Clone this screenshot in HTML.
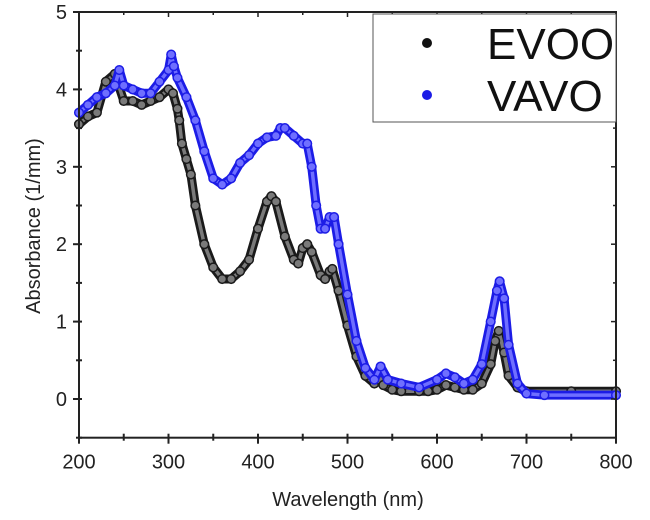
<!DOCTYPE html>
<html><head><meta charset="utf-8"><style>
html,body{margin:0;padding:0;background:#fff;}
svg{display:block;font-family:"Liberation Sans",Arial,sans-serif;}
</style></head><body>
<svg id="chart" width="650" height="520" viewBox="0 0 650 520">
<g id="series"></g>
<g id="axes"></g>
<g>
<rect x="373" y="14" width="243" height="108" fill="#fff" stroke="#555" stroke-width="1"/>
<circle cx="427" cy="43" r="5" fill="#111"/>
<text x="487" y="59" font-size="44" fill="#111">EVOO</text>
<circle cx="427" cy="95" r="5" fill="#1c1ce6"/>
<text x="487" y="111" font-size="44" fill="#111">VAVO</text>
</g>
<text x="348" y="506" font-size="20" text-anchor="middle" fill="#222">Wavelength (nm)</text>
<text transform="translate(40,226) rotate(-90)" font-size="20" text-anchor="middle" fill="#222">Absorbance (1/mm)</text>
</svg>
<script>
const evooX=[200,210,220,230,240,250,260,270,280,290,300,305,310,312,315,320,325,330,340,350,360,370,380,390,400,410,415,420,430,440,445,450,455,460,470,475,480,483,490,500,510,520,530,535,540,550,560,580,590,600,610,620,630,640,650,660,665,669,675,680,690,700,750,800];
const evooY=[3.55,3.65,3.7,4.1,4.2,3.85,3.85,3.8,3.85,3.9,4.0,3.95,3.75,3.6,3.3,3.1,2.9,2.5,2.0,1.7,1.55,1.55,1.65,1.8,2.2,2.55,2.62,2.55,2.1,1.8,1.75,1.95,2.0,1.9,1.6,1.55,1.65,1.68,1.4,0.95,0.55,0.3,0.2,0.25,0.18,0.12,0.1,0.1,0.1,0.12,0.18,0.15,0.12,0.12,0.2,0.45,0.75,0.88,0.6,0.3,0.15,0.1,0.1,0.1];
const vavoX=[200,210,220,230,240,245,250,260,270,280,290,300,303,306,310,320,330,340,350,360,370,380,390,400,410,420,425,430,440,450,455,460,465,470,475,480,485,490,500,510,520,530,537,545,560,580,600,610,620,630,640,650,660,667,670,675,680,690,700,720,800];
const vavoY=[3.7,3.8,3.9,3.95,4.05,4.25,4.05,4.0,3.95,3.95,4.1,4.25,4.45,4.3,4.15,3.9,3.6,3.2,2.85,2.77,2.85,3.05,3.15,3.3,3.38,3.4,3.5,3.5,3.4,3.3,3.3,3.0,2.5,2.2,2.2,2.35,2.35,2.0,1.35,0.75,0.4,0.25,0.42,0.25,0.2,0.15,0.25,0.33,0.28,0.2,0.25,0.45,1.0,1.4,1.52,1.3,0.7,0.2,0.07,0.05,0.05];
const xTicks=[200,300,400,500,600,700,800];
const yTicks=[0,1,2,3,4,5];
const X0=79,X1=616,Y0=437.7,Y1=12;
function sx(v){return X0+(v-200)/600*(X1-X0);}
function sy(v){return Y0-(v+0.5)/5.5*(Y0-Y1);}
const NS="http://www.w3.org/2000/svg";
const ser=document.getElementById('series');
const ax=document.getElementById('axes');
function mk(t,a,p){const e=document.createElementNS(NS,t);for(const k in a)e.setAttribute(k,a[k]);p.appendChild(e);return e;}
function drawSeries(xs,ys,outer,inner,name){
  const g=mk('g',{},ser);
  
  
  const d=xs.map((x,i)=>(i?'L':'M')+sx(x).toFixed(1)+','+sy(ys[i]).toFixed(1)).join(' ');
  mk('path',{d:d,fill:'none',stroke:outer,'stroke-width':9,'stroke-linejoin':'round','stroke-linecap':'round'},g);
  mk('path',{d:d,fill:'none',stroke:inner,'stroke-width':3.5,'stroke-linejoin':'round','stroke-linecap':'round'},g);
  xs.forEach((x,i)=>{
    const c=mk('circle',{cx:sx(x),cy:sy(ys[i]),r:4.3,fill:inner,stroke:outer,'stroke-width':1.5},g);
    
    
  });
}
drawSeries(evooX,evooY,'#1a1a1a','#7a7a7a','series-evoo');
drawSeries(vavoX,vavoY,'#1c1ce6','#6f6fff','series-vavo');
const frame=mk('rect',{x:X0,y:Y1,width:X1-X0,height:Y0-Y1,fill:'none',stroke:'#222','stroke-width':2},ax);


for(let v=200;v<=800;v+=50){
  const x=sx(v),maj=v%100===0;
  mk('line',{x1:x,x2:x,y1:Y0-4,y2:Y0+(maj?6:3),stroke:'#222','stroke-width':2},ax);
  mk('line',{x1:x,x2:x,y1:Y1,y2:Y1+(maj?5:3),stroke:'#222','stroke-width':1.5},ax);
}
xTicks.forEach(v=>{
  const t=mk('text',{x:sx(v),y:Y0+31,'font-size':20,'text-anchor':'middle',fill:'#222'},ax);
  t.textContent=v;
  
  
});
for(let v=-0.5;v<=5;v+=0.5){
  const y=sy(v),maj=Number.isInteger(v);
  mk('line',{x1:X0-(maj?6:3),x2:X0+3,y1:y,y2:y,stroke:'#222','stroke-width':2},ax);
  mk('line',{x1:X1-(maj?5:3),x2:X1,y1:y,y2:y,stroke:'#222','stroke-width':1.5},ax);
}
yTicks.forEach(v=>{
  const t=mk('text',{x:X0-12,y:sy(v)+7,'font-size':20,'text-anchor':'end',fill:'#222'},ax);
  t.textContent=v;
  
  
});
</script>
</body></html>
